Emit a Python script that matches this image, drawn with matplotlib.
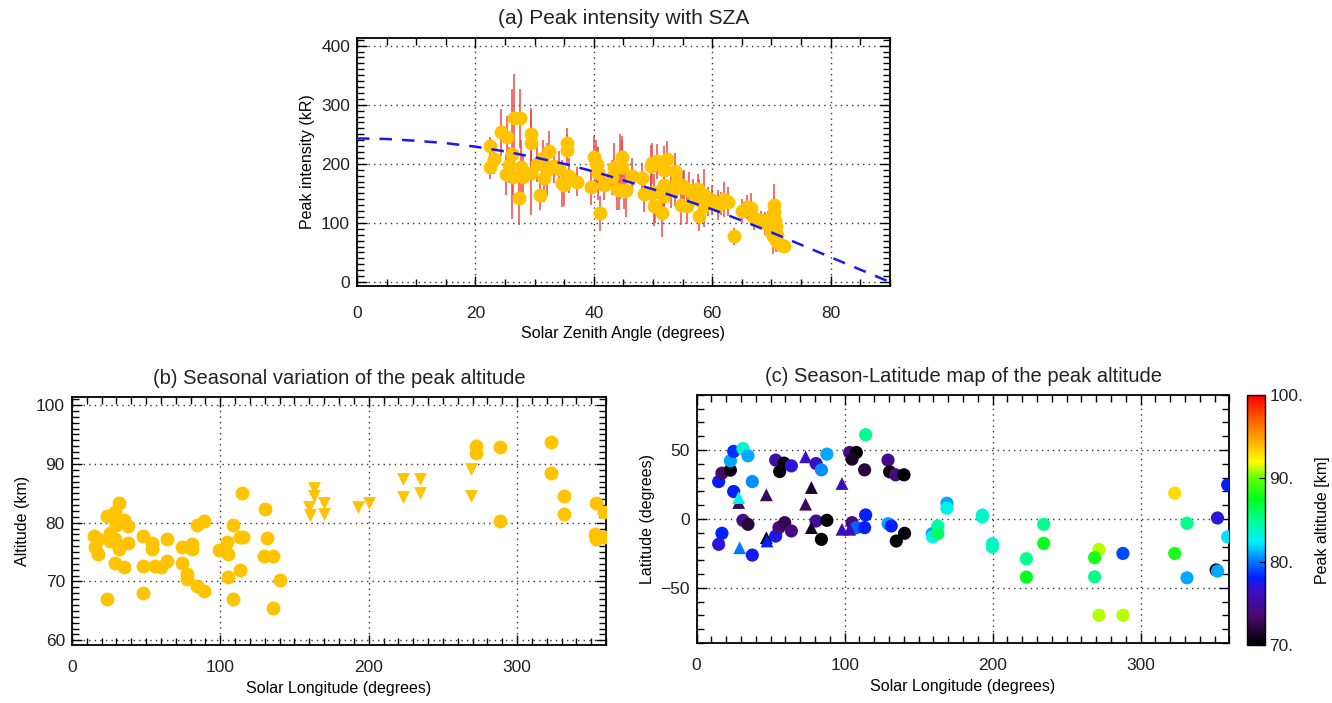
import numpy as np
import matplotlib.pyplot as plt
from matplotlib.colors import LinearSegmentedColormap
from matplotlib.ticker import MultipleLocator

plt.rcParams['font.family'] = ['Liberation Sans', 'DejaVu Sans']
plt.rcParams['text.color'] = '#222222'
plt.rcParams['xtick.labelcolor'] = '#222222'
plt.rcParams['ytick.labelcolor'] = '#222222'

# ---- (a) peak intensity vs SZA ----
sza_a = [22.4, 23.1, 22.5, 24.4, 25.3, 26.6, 27.5, 26.2, 25.6, 25.2, 26.3, 27.7, 27.3, 28.0,
         29.4, 29.4, 29.4, 30.4, 30.9, 31.5, 32.4, 31.6, 32.1, 33.2, 34.2, 35.4, 35.4, 35.0,
         35.8, 37.2, 39.5, 40.0, 40.4, 40.7, 41.0, 41.7, 43.1, 43.4, 43.9, 44.8, 44.8, 45.1,
         46.5, 48.2, 48.4, 49.7, 50.1, 34.6, 40.6, 44.5, 44.2, 45.4, 49.8, 50.7, 52.3, 51.8,
         53.8, 50.1, 49.6, 50.4, 51.6, 51.8, 51.8, 53.0, 53.8, 54.7, 55.2, 55.8, 56.1, 57.6,
         57.8, 57.8, 58.6, 58.6, 60.0, 60.9, 62.0, 62.6, 63.7, 65.9, 66.5, 67.1, 68.2, 69.0,
         69.9, 70.5, 70.5, 70.6, 70.5, 70.2, 70.7, 71.6, 72.1, 70.3, 70.8, 70.0, 69.5, 70.9,
         71.0, 54.0, 55.0, 56.8, 59.3, 61.5, 65.0]
int_a = [230, 208, 195, 253, 246, 277, 277, 217, 198, 182, 178, 195, 142, 177,
         250, 235, 184, 200, 147, 210, 221, 176, 190, 197, 191, 236, 224, 164,
         180, 170, 160, 212, 201, 184, 116, 164, 177, 195, 157, 212, 195, 154,
         180, 176, 149, 197, 129, 167, 198, 195, 156, 155, 201, 204, 208, 190,
         188, 153, 151, 129, 116, 164, 146, 156, 159, 131, 159, 128, 156, 157,
         139, 112, 147, 128, 139, 130, 140, 136, 77, 127, 125, 108, 105, 99,
         108, 130, 119, 105, 91, 77, 71, 63, 61, 112, 95, 85, 100, 80,
         68, 170, 162, 150, 136, 133, 120]
err_a = [15, 25, 20, 40, 35, 75, 50, 110, 30, 35, 30, 45, 45, 40,
         45, 55, 70, 30, 25, 30, 35, 40, 45, 30, 30, 25, 25, 35,
         30, 25, 30, 35, 40, 45, 30, 25, 30, 40, 35, 35, 45, 30,
         30, 25, 30, 35, 35, 40, 30, 55, 35, 45, 35, 30, 30, 40,
         30, 30, 30, 30, 40, 35, 35, 30, 30, 35, 30, 30, 30, 25,
         35, 25, 45, 35, 25, 25, 30, 25, 15, 20, 25, 20, 15, 20,
         20, 35, 25, 25, 25, 30, 20, 10, 10, 20, 20, 15, 20, 20,
         15, 25, 25, 25, 25, 20, 20]
# model curve read at 5 degree steps
sza_fit = [0, 5, 10, 15, 20, 25, 30, 35, 40, 45, 50, 55, 60, 65, 70, 75, 80, 85, 90]
int_fit = [243, 242, 239, 235, 229, 221, 211, 200, 187, 172, 157, 140, 123, 104, 84, 63, 42, 21, 0]

# ---- (b) seasonal variation of peak altitude ----
ls_b_circ = [15.1, 17.8, 15.5, 17.8, 23.4, 23.4, 25.7, 25.7, 29.0, 29.5, 29.0, 32.0, 32.0,
             35.3, 38.0, 38.0, 29.0, 35.3, 47.7, 53.8, 53.8, 47.7, 47.7, 56.0, 59.9, 64.4,
             64.4, 74.0, 74.0, 77.8, 77.8, 81.2, 81.2, 84.2, 89.1, 84.2, 89.1, 98.8, 104.4,
             105.5, 105.5, 108.4, 108.4, 113.4, 113.4, 115.0, 114.6, 130.3, 131.4, 129.6,
             135.4, 135.2, 140.4, 272.1, 272.1, 288.3, 288.3, 323.0, 323.0, 331.6, 331.6,
             353.2, 358.7, 352.5, 353.2, 358.7]
alt_b_circ = [77.7, 77.2, 75.9, 74.6, 67.1, 81.2, 78.3, 76.9, 81.8, 79.6, 77.2, 83.4, 75.5,
              80.5, 79.4, 76.6, 73.2, 72.4, 77.8, 76.6, 75.6, 72.6, 68.1, 72.6, 72.5, 77.2,
              73.5, 75.9, 73.1, 71.2, 70.4, 76.3, 75.6, 79.6, 80.3, 69.2, 68.3, 75.4, 76.7,
              74.6, 70.8, 79.6, 67.1, 71.9, 77.6, 77.6, 85.0, 82.4, 77.4, 74.3,
              74.3, 65.5, 70.2, 93.0, 91.9, 92.9, 80.3, 93.7, 88.5, 84.5, 81.4,
              83.3, 81.9, 78.0, 77.3, 77.6]
ls_b_tri = [163.4, 163.4, 159.6, 160.2, 169.7, 169.7, 193.1, 200.1, 223.3, 223.3, 234.5,
            234.5, 268.8, 268.8]
alt_b_tri = [85.9, 84.5, 82.6, 81.3, 83.4, 81.4, 82.7, 83.4, 87.4, 84.4, 87.4, 85.0, 89.2, 84.5]

# ---- (c) season-latitude map ----
ls_c_circ = [14.9, 17.1, 22.8, 22.8, 25.0, 31.3, 34.7, 37.6, 25.0, 53.4, 59.0, 56.1, 64.0,
             80.7, 84.3, 88.0, 103.4, 107.9, 105.0, 113.5, 114.2, 129.3, 130.4, 134.5, 140.1,
             14.9, 17.1, 31.3, 34.7, 37.6, 53.4, 55.6, 59.5, 64.0, 80.7, 84.3, 88.0, 105.0,
             107.9, 113.5, 114.2, 129.3, 131.5, 134.9, 140.5,
             169.1, 169.1, 159.2, 159.5, 163.0, 163.0, 193.1, 193.0, 199.8, 199.8, 222.8,
             222.8, 234.5, 234.5, 271.8, 268.9, 268.9, 271.8, 288.0, 288.0, 323.0, 323.0,
             331.3, 331.3, 358.8, 351.9, 358.8, 351.0, 352.0]
lat_c_circ = [27.1, 33.2, 35.4, 42.2, 49.0, 51.1, 45.8, 27.1, 19.9, 42.7, 40.5, 34.4, 38.5,
              40.2, 35.6, 47.0, 48.2, 48.2, 43.4, 35.6, 61.1, 42.7, 34.2, 32.0, 32.0,
              -18.4, -10.4, -1.0, -3.9, -26.2, -12.4, -6.3, -2.7, -8.7, -1.5, -14.8, -1.0, -2.7,
              -6.3, -6.3, 2.9, -3.4, -5.1, -16.0, -10.4,
              11.4, 7.8, -10.7, -13.0, -5.1, -10.7, 2.9, 1.5, -18.0, -20.4, -28.9,
              -42.2, -3.9, -17.7, -22.1, -28.1, -42.0, -69.8, -69.8, -25.0, 18.7, -25.0,
              -3.1, -42.7, 24.7, 0.7, -13.0, -37.0, -37.8]
alt_c_circ = [78.0, 73.5, 70.5, 81.0, 78.5, 83.5, 81.0, 80.5, 78.0, 75.5, 70.5, 70.5, 77.0,
              76.0, 80.5, 81.0, 74.5, 70.0, 71.5, 72.0, 85.0, 74.5, 70.5, 74.0, 70.0,
              77.0, 78.0, 74.5, 72.0, 77.5, 77.5, 74.0, 72.5, 74.0, 75.0, 70.0, 70.0, 74.0,
              79.5, 78.0, 78.0, 81.0, 78.0, 70.0, 70.5,
              81.0, 83.0, 81.0, 83.0, 84.5, 86.0, 83.0, 83.5, 83.0, 84.0, 85.0,
              87.5, 85.0, 87.5, 91.0, 88.0, 85.0, 91.0, 91.0, 79.0, 93.0, 88.0,
              85.0, 81.0, 78.0, 77.0, 82.0, 71.0, 81.0]
ls_c_tri = [28.4, 28.4, 47.1, 73.6, 77.5, 73.6, 98.2, 29.1, 47.1, 47.5, 77.5, 98.2, 103.4]
lat_c_tri = [11.9, 15.5, 17.5, 45.1, 22.8, 10.7, 25.7, -20.9, -13.6, -16.0, -6.3, -7.5, -7.5]
alt_c_tri = [73.0, 83.0, 73.0, 76.5, 71.5, 73.0, 76.0, 80.0, 70.0, 78.0, 71.0, 76.0, 76.0]

yellow = '#FFC300'

cmap = LinearSegmentedColormap.from_list('idl_rainbow', [
    (0.0, '#000000'), (0.12, '#4a0a6e'), (0.22, '#3a10d0'), (0.27, '#0020ff'),
    (0.35, '#0090ff'), (0.41, '#00f0ff'), (0.50, '#00ff90'), (0.58, '#00ff20'),
    (0.67, '#60ff00'), (0.73, '#ffff00'), (0.83, '#ffa000'), (1.0, '#ff0000')])


def style_axes(ax, xminor, yminor, xpad=11):
    ax.xaxis.set_minor_locator(MultipleLocator(xminor))
    ax.yaxis.set_minor_locator(MultipleLocator(yminor))
    ax.tick_params(which='both', direction='in', top=True, right=True, labelsize=12.5)
    ax.tick_params(which='major', length=7, width=1.0)
    ax.tick_params(which='minor', length=5, width=1.0)
    ax.tick_params(axis='x', pad=xpad)
    ax.tick_params(axis='y', pad=5)
    ax.grid(True, which='major', linestyle=(0, (1, 3)), color='#333333', linewidth=1.0)
    for s in ax.spines.values():
        s.set_linewidth(1.3)


fig = plt.figure(figsize=(13.32, 7.03), dpi=100)

# (a)
ax1 = fig.add_axes([0.268, 0.593, 0.400, 0.353])
ax1.errorbar(sza_a, int_a, yerr=err_a, fmt='none', ecolor='#ee4444', elinewidth=1.2,
             alpha=0.9, zorder=2)
ax1.plot(sza_a, int_a, 'o', color=yellow, markersize=10, markeredgewidth=0, zorder=3)
ax1.plot(sza_fit, int_fit, color='#1a1aee', linewidth=1.8, dashes=(5, 4), zorder=4)
ax1.set_xlim(0, 90)
ax1.set_ylim(-7, 413)
ax1.set_xticks([0, 20, 40, 60, 80])
ax1.set_yticks([0, 100, 200, 300, 400])
style_axes(ax1, 5, 10, xpad=14)
ax1.set_xlabel('Solar Zenith Angle (degrees)', fontsize=11.5)
ax1.set_ylabel('Peak intensity (kR)', fontsize=11.5)
ax1.set_title('(a) Peak intensity with SZA', fontsize=15, pad=10)

# (b)
ax2 = fig.add_axes([0.054, 0.0825, 0.401, 0.353])
ax2.scatter(ls_b_circ, alt_b_circ, s=100, marker='o', color=yellow, linewidths=0, zorder=3)
ax2.scatter(ls_b_tri, alt_b_tri, s=85, marker='v', color=yellow, linewidths=0, zorder=3)
ax2.set_xlim(0, 360)
ax2.set_ylim(59.2, 101.4)
ax2.set_xticks([0, 100, 200, 300])
ax2.set_yticks([60, 70, 80, 90, 100])
style_axes(ax2, 10, 1)
ax2.set_xlabel('Solar Longitude (degrees)', fontsize=11.5)
ax2.set_ylabel('Altitude (km)', fontsize=11.5)
ax2.set_title('(b) Seasonal variation of the peak altitude', fontsize=14.5, pad=9)

# (c)
ax3 = fig.add_axes([0.523, 0.0853, 0.400, 0.353])
sc = ax3.scatter(ls_c_circ, lat_c_circ, c=alt_c_circ, cmap=cmap, vmin=70, vmax=100,
                 s=90, marker='o', linewidths=0, zorder=3)
ax3.scatter(ls_c_tri, lat_c_tri, c=alt_c_tri, cmap=cmap, vmin=70, vmax=100,
            s=85, marker='^', linewidths=0, zorder=3)
ax3.set_xlim(0, 360)
ax3.set_ylim(-90, 90)
ax3.set_xticks([0, 100, 200, 300])
ax3.set_yticks([-50, 0, 50])
style_axes(ax3, 10, 10)
ax3.set_xlabel('Solar Longitude (degrees)', fontsize=11.5)
ax3.set_ylabel('Latitude (degrees)', fontsize=11.5)
ax3.set_title('(c) Season-Latitude map of the peak altitude', fontsize=14.5, pad=9)

cax = fig.add_axes([0.936, 0.0825, 0.0135, 0.356])
cb = fig.colorbar(sc, cax=cax)
cb.set_ticks([70, 80, 90, 100])
cb.set_ticklabels(['70.', '80.', '90.', '100.'])
cb.ax.tick_params(labelsize=12.5, direction='in', length=4)
cb.set_label('Peak altitude [km]', fontsize=11.5, labelpad=8)
cb.outline.set_linewidth(1.0)

fig.savefig('out.png', dpi=100)
